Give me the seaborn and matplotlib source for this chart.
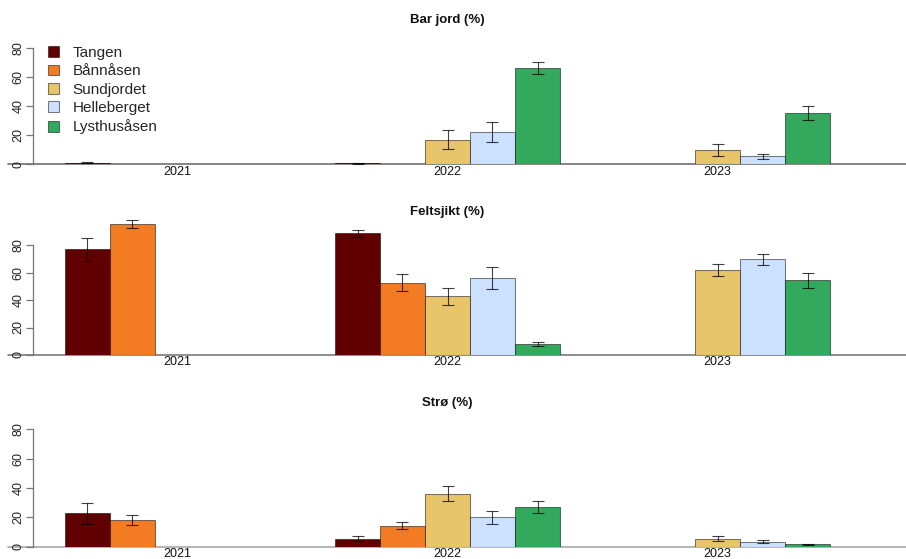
import numpy as np
import pandas as pd
import matplotlib
matplotlib.use("Agg")
import matplotlib.pyplot as plt
import seaborn as sns

# ---- data -------------------------------------------------------------
years = ["2021", "2022", "2023"]
sites = ["Tangen", "Bånnåsen", "Sundjordet", "Helleberget", "Lysthusåsen"]
site_colors = ["#600000", "#F27B24", "#E8C46A", "#CCE0FF", "#33A95E"]

nan = np.nan
# mean values per site, one entry per year (2021, 2022, 2023)
bar_jord_mean = {
    "Tangen":      [1.2, 0.7, nan],
    "Bånnåsen":    [nan, nan, nan],
    "Sundjordet":  [nan, 16.9, 10.0],
    "Helleberget": [nan, 22.0, 5.5],
    "Lysthusåsen": [nan, 65.9, 35.4],
}
bar_jord_se = {
    "Tangen":      [0.4, 0.3, nan],
    "Bånnåsen":    [nan, nan, nan],
    "Sundjordet":  [nan, 6.5, 4.0],
    "Helleberget": [nan, 7.0, 1.8],
    "Lysthusåsen": [nan, 4.2, 4.8],
}
feltsjikt_mean = {
    "Tangen":      [76.9, 88.5, nan],
    "Bånnåsen":    [95.5, 52.6, nan],
    "Sundjordet":  [nan, 42.7, 61.8],
    "Helleberget": [nan, 55.8, 69.6],
    "Lysthusåsen": [nan, 7.8, 54.3],
}
feltsjikt_se = {
    "Tangen":      [8.5, 2.5, nan],
    "Bånnåsen":    [3.0, 6.3, nan],
    "Sundjordet":  [nan, 6.0, 4.2],
    "Helleberget": [nan, 8.0, 4.0],
    "Lysthusåsen": [nan, 1.5, 5.5],
}
stro_mean = {
    "Tangen":      [22.7, 5.5, nan],
    "Bånnåsen":    [18.0, 14.3, nan],
    "Sundjordet":  [nan, 36.1, 5.5],
    "Helleberget": [nan, 20.0, 3.4],
    "Lysthusåsen": [nan, 27.3, 1.6],
}
stro_se = {
    "Tangen":      [7.4, 1.8, nan],
    "Bånnåsen":    [3.5, 2.4, nan],
    "Sundjordet":  [nan, 5.2, 1.5],
    "Helleberget": [nan, 4.2, 1.1],
    "Lysthusåsen": [nan, 4.1, 0.3],
}
panel_titles = ["Bar jord (%)", "Feltsjikt (%)", "Strø (%)"]
y_ticks = [0, 20, 40, 60, 80]

panels = [
    (panel_titles[0], bar_jord_mean, bar_jord_se),
    (panel_titles[1], feltsjikt_mean, feltsjikt_se),
    (panel_titles[2], stro_mean, stro_se),
]

# ---- layout (pixels) --------------------------------------------------
W, H, DPI = 906, 559, 100
ax_left_px, ax_right_px = 8, 906
yaxis_px = 33
group_px, first_center_px = 270, 177.5
# (zero line, pixels per unit, top of panel, title centre, baseline colour)
panel_geom = [
    (164.3, 1.4575, 28, 20, "#707070"),
    (355.0, 1.375, 212, 212, "#7a7a7a"),
    (546.7, 1.4675, 412, 403, "#a8a8a8"),
]

sns.set_theme(style="white")
plt.rcParams["font.family"] = ["Liberation Sans", "DejaVu Sans"]

fig = plt.figure(figsize=(W / DPI, H / DPI), dpi=DPI)
palette = dict(zip(sites, site_colors))
n_hue = len(sites)
dodge_width = 5 / 6
bar_w = dodge_width / n_hue

for k, (title, means, ses) in enumerate(panels):
    zero_px, ppu, top_px, title_px, base_col = panel_geom[k]
    ax = fig.add_axes([
        ax_left_px / W,
        (H - zero_px) / H,
        (ax_right_px - ax_left_px) / W,
        (zero_px - top_px) / H,
    ])

    rows = []
    for s in sites:
        for i, y in enumerate(years):
            rows.append({"year": y, "site": s, "value": means[s][i], "se": ses[s][i]})
    df = pd.DataFrame(rows)

    sns.barplot(
        data=df.dropna(subset=["value"]), x="year", y="value", hue="site",
        order=years, hue_order=sites, palette=palette, width=dodge_width,
        errorbar=None, edgecolor=(0, 0, 0, 0.5), linewidth=0.75,
        saturation=1, legend=(k == 0), ax=ax,
    )

    # error bars placed on each drawn bar
    for p in ax.patches:
        h = p.get_height()
        if not np.isfinite(h):
            continue
        cx = p.get_x() + p.get_width() / 2
        gi = int(round(cx))
        si = int(round((cx - gi) / bar_w + (n_hue - 1) / 2))
        err = ses[sites[si]][gi]
        if np.isfinite(err):
            ax.errorbar(cx, h, yerr=err, fmt="none", ecolor=(0, 0, 0, 0.75),
                        elinewidth=0.8, capsize=4, capthick=0.8, clip_on=False)

    x0 = (ax_left_px - first_center_px) / group_px
    x1 = (ax_right_px - first_center_px) / group_px
    ax.set_xlim(x0, x1)
    ax.set_ylim(0, (zero_px - top_px) / ppu)

    ax.axhline(0, color=base_col, lw=1.2, zorder=0.5, clip_on=False)

    for side in ["top", "right", "bottom"]:
        ax.spines[side].set_visible(False)
    ax.spines["left"].set_position(("axes", (yaxis_px - ax_left_px) / (ax_right_px - ax_left_px)))
    ax.spines["left"].set_bounds(0, 80)
    ax.spines["left"].set_color("#777777")
    ax.spines["left"].set_linewidth(0.9)

    ax.set_yticks(y_ticks)
    ax.set_yticklabels([str(t) for t in y_ticks], rotation=90, va="center")
    ax.tick_params(axis="y", length=5, width=0.9, color="#777777", pad=1,
                   labelsize=9, labelcolor="#222222", left=True)
    ax.tick_params(axis="x", length=0, pad=1, labelsize=9, labelcolor="#111111")
    ax.set_xlabel("")
    ax.set_ylabel("")

    fig.text(447.5 / W, 1 - title_px / H, title, ha="center", va="center",
             fontsize=9.5, fontweight="bold", color="#111111")

    if k == 0:
        handles, labels = ax.get_legend_handles_labels()
        ax.legend(handles, labels, loc="upper left",
                  bbox_to_anchor=(48 / W, 1 - 46 / H), bbox_transform=fig.transFigure,
                  frameon=False, fontsize=11, handlelength=0.72, handleheight=0.72,
                  handletextpad=0.9, labelspacing=0.285, borderaxespad=0, borderpad=0)

fig.savefig("out.png", dpi=DPI)
